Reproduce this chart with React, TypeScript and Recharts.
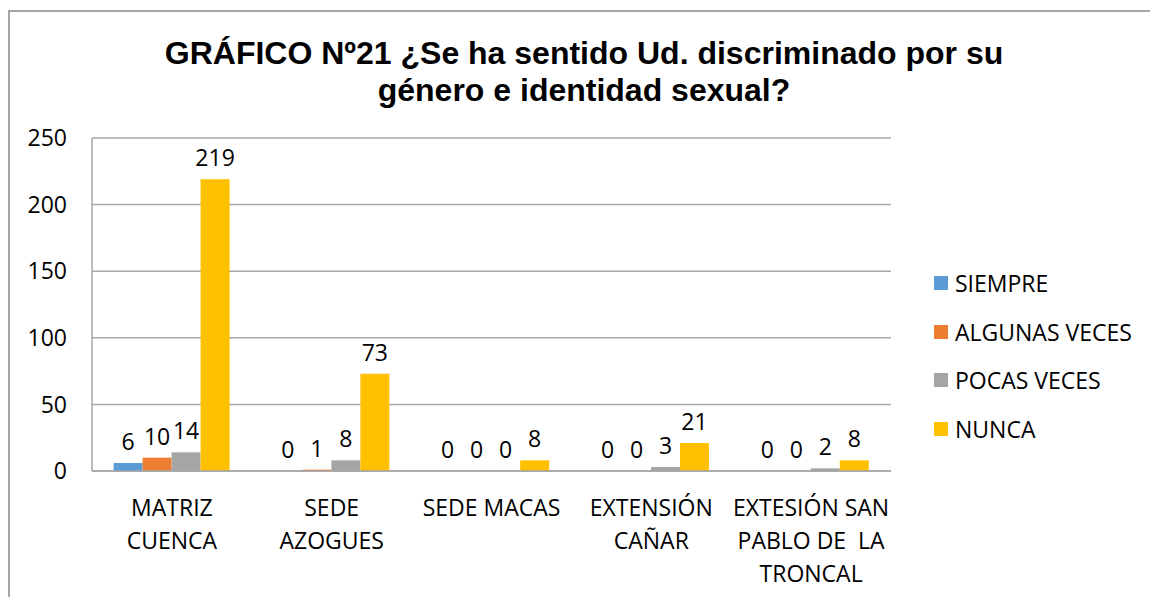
import { BarChart, Bar, XAxis, YAxis, CartesianGrid, LabelList } from "recharts";

const sedes = [
  "MATRIZ\nCUENCA",
  "SEDE\nAZOGUES",
  "SEDE MACAS",
  "EXTENSIÓN\nCAÑAR",
  "EXTESIÓN SAN\nPABLO DE  LA\nTRONCAL",
];
const siempre = [6, 0, 0, 0, 0];
const algunasVeces = [10, 1, 0, 0, 0];
const pocasVeces = [14, 8, 0, 3, 2];
const nunca = [219, 73, 8, 21, 8];
const yTicks = [0, 50, 100, 150, 200, 250];

const series = [
  { key: "siempre", name: "SIEMPRE", color: "#5B9BD5" },
  { key: "algunas", name: "ALGUNAS VECES", color: "#ED7D31" },
  { key: "pocas", name: "POCAS VECES", color: "#A5A5A5" },
  { key: "nunca", name: "NUNCA", color: "#FFC000" },
];

const data = sedes.map((sede, i) => ({
  sede,
  siempre: siempre[i],
  algunas: algunasVeces[i],
  pocas: pocasVeces[i],
  nunca: nunca[i],
}));

const FONT = "'Open Sans', sans-serif";
const FS = 23;

function SedeTick(props: any) {
  const { x, y, payload } = props;
  const lines = String(payload.value).split("\n");
  return (
    <text x={x} y={y} textAnchor="middle" fontFamily={FONT} fontSize={FS} fill="#000">
      {lines.map((line, i) => (
        <tspan key={i} x={x} dy={i === 0 ? 37 : 33} style={{ whiteSpace: "pre" }}>
          {line}
        </tspan>
      ))}
    </text>
  );
}

// zero values still need their "0" label, so give them an invisible sliver
const zeroSliver = (value: any) => (value === 0 ? 0.1 : 0);

export default function App() {
  return (
    <div style={{ position: "fixed", left: 0, top: 0, width: 1150, height: 597, background: "#fff", overflow: "hidden" }}>
      <div
        style={{
          position: "absolute",
          left: 8,
          top: 10,
          width: 1200,
          height: 700,
          borderLeft: "2px solid #A6A6A6",
          borderTop: "2px solid #A6A6A6",
        }}
      />
      <div
        style={{
          position: "absolute",
          left: 0,
          width: 1168,
          top: 35,
          textAlign: "center",
          fontFamily: "'Liberation Sans', Arial, sans-serif",
          fontWeight: "bold",
          fontSize: 32,
          lineHeight: "37px",
        }}
      >
        GRÁFICO Nº21 ¿Se ha sentido Ud. discriminado por su
        <br />
        género e identidad sexual?
      </div>
      <div style={{ position: "absolute", left: 0, top: 0 }}>
        <BarChart
          width={1150}
          height={597}
          data={data}
          margin={{ top: 138, right: 259, bottom: 26, left: 32 }}
          barCategoryGap="13.5%"
          barGap={0}
        >
          <CartesianGrid vertical={false} stroke="#A6A6A6" strokeWidth={1.5} />
          <XAxis
            dataKey="sede"
            tick={<SedeTick />}
            tickLine={false}
            axisLine={{ stroke: "#A6A6A6", strokeWidth: 1.5 }}
            interval={0}
            height={100}
          />
          <YAxis
            domain={[0, 250]}
            ticks={yTicks}
            interval={0}
            width={60}
            tickLine={false}
            tickSize={0}
            tickMargin={25}
            axisLine={{ stroke: "#A6A6A6", strokeWidth: 1.5 }}
            tick={{ fontFamily: FONT, fontSize: FS, fill: "#000" }}
          />
          {series.map((s) => (
            <Bar
              key={s.key}
              dataKey={s.key}
              name={s.name}
              fill={s.color}
              minPointSize={zeroSliver}
              isAnimationActive={false}
            >
              <LabelList
                dataKey={s.key}
                position="top"
                offset={13}
                style={{ fontFamily: FONT, fontSize: FS, fill: "#000" }}
              />
            </Bar>
          ))}
        </BarChart>
      </div>
      <div style={{ position: "absolute", left: 934, top: 259, fontFamily: FONT, fontSize: FS, color: "#000" }}>
        {series.map((s) => (
          <div key={s.key} style={{ display: "flex", alignItems: "center", height: 48.5 }}>
            <span style={{ width: 14, height: 14, background: s.color, marginRight: 7 }} />
            <span>{s.name}</span>
          </div>
        ))}
      </div>
    </div>
  );
}
